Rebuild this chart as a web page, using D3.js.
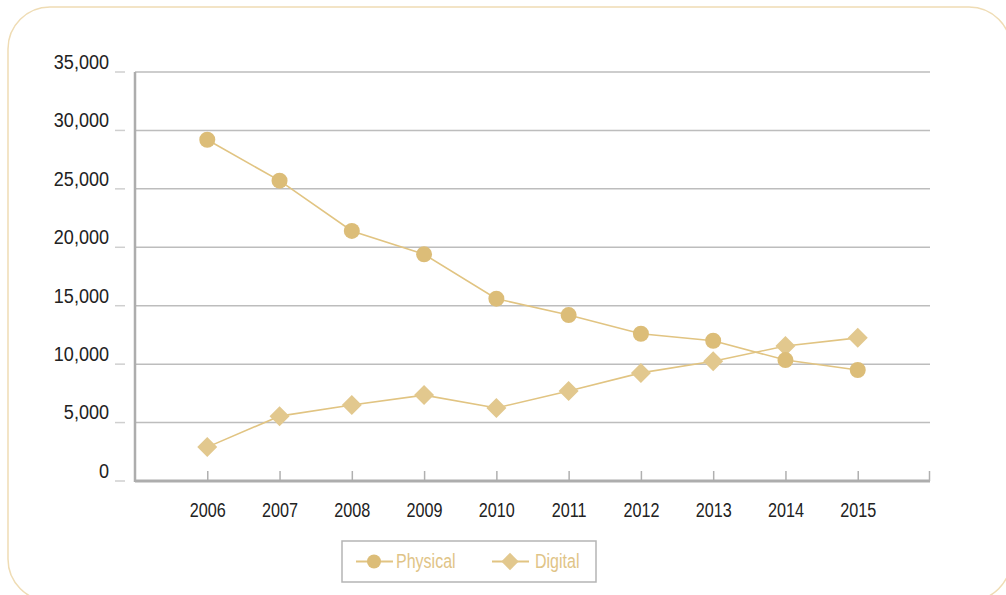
<!DOCTYPE html>
<html><head><meta charset="utf-8">
<script src="https://cdn.jsdelivr.net/npm/d3@7"></script>
<style>
html,body{margin:0;padding:0;background:#fff;}
svg{display:block;}
text{font-family:"Liberation Sans Narrow","Arial Narrow","Liberation Sans",sans-serif;}
</style></head>
<body><svg id="c" width="1006" height="595"></svg>
<script>
const years = ["2006","2007","2008","2009","2010","2011","2012","2013","2014","2015"];
const physical = [29200, 25700, 21400, 19400, 15600, 14200, 12600, 12000, 10350, 9500];
const digital = [2900, 5550, 6500, 7350, 6250, 7700, 9250, 10250, 11550, 12250];
const yTicks = [0, 5000, 10000, 15000, 20000, 25000, 30000, 35000];
const seriesNames = ["Physical", "Digital"];

(function(){
const svg = d3.select("#c");
const lineCol = "#e1c482", circCol = "#dcbd78", diaCol = "#e2c88e";
const FONT = '"Liberation Sans Narrow","Arial Narrow","Liberation Sans",sans-serif';
function squeeze(sel, f){
  sel.each(function(){
    const w = this.getComputedTextLength();
    d3.select(this).attr("textLength", w*f).attr("lengthAdjust","spacingAndGlyphs");
  });
}

// frame
svg.append("rect").attr("x",8).attr("y",7).attr("width",1003).attr("height",594)
  .attr("rx",42).attr("fill","none").attr("stroke","#efdcb4").attr("stroke-width",1.5);

const pL=135, pR=930, pT=72, pB=481;
const x = d3.scalePoint().domain(years).range([pL, pR]).padding(1);
const y = d3.scaleLinear().domain([0,35000]).range([pB, pT]);

// gridlines
svg.append("g").selectAll("line").data(yTicks.filter(d=>d>0)).join("line")
  .attr("x1",pL).attr("x2",pR).attr("y1",d=>y(d)).attr("y2",d=>y(d))
  .attr("stroke","#bdbdbd").attr("stroke-width",1.5);

// y axis (labels + small dashes)
const yAxis = d3.axisLeft(y).tickValues(yTicks).tickFormat(d3.format(",")).tickSize(0).tickPadding(0);
const gy = svg.append("g").attr("transform",`translate(${pL},0)`).call(yAxis);
gy.select(".domain").remove();
gy.selectAll(".tick text").attr("x",-26).attr("dy","-0.18em").attr("font-size",20.5).attr("fill","#222")
  .style("font-family",FONT);
squeeze(gy.selectAll(".tick text"), 0.88);
gy.selectAll(".tick").append("line").attr("x1",-20).attr("x2",-10).attr("y1",-0.5).attr("y2",-0.5)
  .attr("stroke","#cfcfcf").attr("stroke-width",1.5);

// left axis line
svg.append("line").attr("x1",pL).attr("x2",pL).attr("y1",pT).attr("y2",pB+1)
  .attr("stroke","#adadad").attr("stroke-width",2.5);

// x axis
const xAxis = d3.axisBottom(x).tickSize(-10).tickSizeOuter(0).tickPadding(18);
const gx = svg.append("g").attr("transform",`translate(0,${pB})`).call(xAxis);
gx.select(".domain").remove();
gx.selectAll(".tick line").attr("stroke","#b0b0b0").attr("stroke-width",1.5);
gx.selectAll(".tick text").attr("font-size",20.5).attr("fill","#222").attr("dy","0.88em")
  .style("font-family",FONT);
squeeze(gx.selectAll(".tick text"), 0.79);
svg.append("line").attr("x1",pL).attr("x2",pR).attr("y1",pB).attr("y2",pB)
  .attr("stroke","#adadad").attr("stroke-width",3);
svg.append("line").attr("x1",pR-0.5).attr("x2",pR-0.5).attr("y1",pB-10).attr("y2",pB)
  .attr("stroke","#b0b0b0").attr("stroke-width",1.5);

const line = d3.line().x((d,i)=>x(years[i])).y(d=>y(d));
svg.append("path").datum(physical).attr("d",line).attr("fill","none").attr("stroke",lineCol).attr("stroke-width",1.6);
svg.append("path").datum(digital).attr("d",line).attr("fill","none").attr("stroke",lineCol).attr("stroke-width",1.6);

const diamond = d3.symbol().type(d3.symbolSquare).size(200);
svg.append("g").selectAll("path").data(digital).join("path")
  .attr("d",diamond()).attr("fill",diaCol)
  .attr("transform",(d,i)=>`translate(${x(years[i])},${y(d)}) rotate(45)`);
svg.append("g").selectAll("circle").data(physical).join("circle")
  .attr("cx",(d,i)=>x(years[i])).attr("cy",d=>y(d)).attr("r",8).attr("fill",circCol);

// legend
const lg = svg.append("g");
lg.append("rect").attr("x",342).attr("y",541).attr("width",254).attr("height",41)
  .attr("fill","#fff").attr("stroke","#b5b5b5").attr("stroke-width",1.5);
const items = [
  {name:seriesNames[0], x0:356, shape:"circle"},
  {name:seriesNames[1], x0:492, shape:"diamond"}
];
items.forEach(it=>{
  const g = lg.append("g");
  g.append("line").attr("x1",it.x0).attr("x2",it.x0+37).attr("y1",561.5).attr("y2",561.5)
    .attr("stroke",lineCol).attr("stroke-width",2.2);
  if(it.shape==="circle"){
    g.append("circle").attr("cx",it.x0+18).attr("cy",561.5).attr("r",7).attr("fill",circCol);
  } else {
    g.append("path").attr("d",d3.symbol().type(d3.symbolSquare).size(150)())
      .attr("fill",diaCol).attr("transform",`translate(${it.x0+18},561.5) rotate(45)`);
  }
  const t = g.append("text").attr("x",it.x0+(it.shape==="circle"?40:43)).attr("y",568).attr("font-size",20)
    .attr("fill","#dfc487").text(it.name);
  squeeze(t, 0.8);
});
})();
</script></body></html>
